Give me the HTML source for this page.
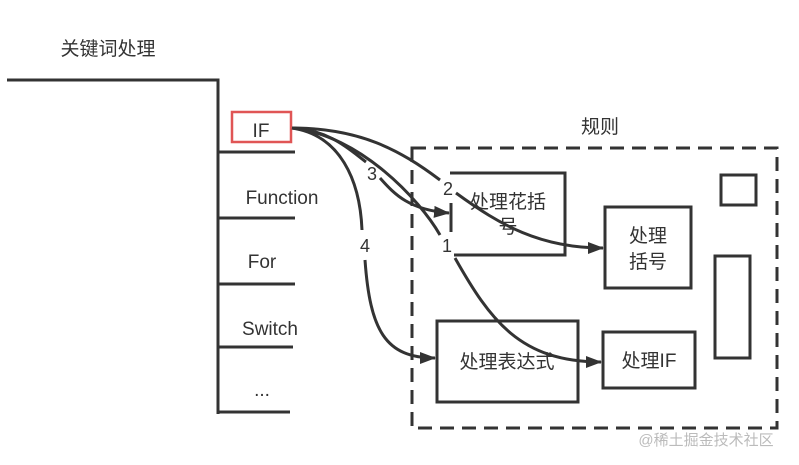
<!DOCTYPE html>
<html><head><meta charset="utf-8"><style>
html,body{margin:0;padding:0;background:#fff;}
svg{display:block;}
text{font-family:"Liberation Sans","Noto Sans CJK SC",sans-serif;fill:#333;}
</style></head><body>
<svg width="799" height="465" viewBox="0 0 799 465" xmlns="http://www.w3.org/2000/svg">
<defs>
<marker id="ah" viewBox="0 0 16 12" refX="15" refY="6" markerWidth="16" markerHeight="12" orient="auto" markerUnits="userSpaceOnUse">
<path d="M0,0 L16,6 L0,12 z" fill="#333"/></marker>
</defs>
<g stroke="#333" stroke-width="3" fill="none">
<path d="M7,80 H218 V414"/>
<path d="M218,152 H295 M218,218 H295 M218,284 H295 M218,347 H293 M218,412 H290"/>
</g>
<rect x="232" y="112" width="59" height="30" fill="#fff" stroke="#e05555" stroke-width="2.5"/>
<text x="261" y="137" font-size="19" text-anchor="middle">IF</text>
<text x="282" y="204" font-size="19" text-anchor="middle">Function</text>
<text x="262" y="268" font-size="19" text-anchor="middle">For</text>
<text x="270" y="335" font-size="19" text-anchor="middle">Switch</text>
<text x="262" y="396" font-size="19" text-anchor="middle">...</text>
<text x="108" y="55" font-size="19" text-anchor="middle">关键词处理</text>
<text x="600" y="133" font-size="19" text-anchor="middle">规则</text>
<rect x="412" y="148" width="365" height="280" fill="none" stroke="#333" stroke-width="3" stroke-dasharray="14,8"/>
<g stroke="#333" stroke-width="3" fill="#fff">
<path d="M450,173 H565 V255 H454" fill="none"/>
<path d="M451,203 V232" fill="none"/>
<rect x="605" y="207" width="86" height="81"/>
<rect x="437" y="321" width="141" height="81"/>
<rect x="603" y="332" width="92" height="56"/>
<rect x="721" y="175" width="35" height="30"/>
<rect x="715" y="256" width="35" height="102"/>
</g>
<text x="508" y="208" font-size="19" text-anchor="middle">处理花括</text>
<text x="508" y="233" font-size="19" text-anchor="middle">号</text>
<text x="648" y="242" font-size="19" text-anchor="middle">处理</text>
<text x="648" y="268" font-size="19" text-anchor="middle">括号</text>
<text x="507" y="368" font-size="19" text-anchor="middle">处理表达式</text>
<text x="649" y="367" font-size="19" text-anchor="middle">处理IF</text>
<g stroke="#333" stroke-width="3" fill="none">
<path d="M292,128 C360,128 400,150 440,180"/>
<path d="M456,193 C500,225 540,248 603,248" marker-end="url(#ah)"/>
<path d="M292,128 C330,130 350,150 366,162"/>
<path d="M380,178 C395,195 410,210 449,213" marker-end="url(#ah)"/>
<path d="M292,128 C360,135 420,200 440,235"/>
<path d="M455,258 C490,320 520,362 601,362" marker-end="url(#ah)"/>
<path d="M292,128 C340,135 360,180 362,230"/>
<path d="M365,260 C370,330 385,358 435,358" marker-end="url(#ah)"/>
</g>
<text x="448" y="195" font-size="18" text-anchor="middle">2</text>
<text x="372" y="180" font-size="18" text-anchor="middle">3</text>
<text x="447" y="252" font-size="18" text-anchor="middle">1</text>
<text x="365" y="252" font-size="18" text-anchor="middle">4</text>
<text x="706" y="445" font-size="15" text-anchor="middle" style="fill:#bbb">@稀土掘金技术社区</text>
</svg>
</body></html>
